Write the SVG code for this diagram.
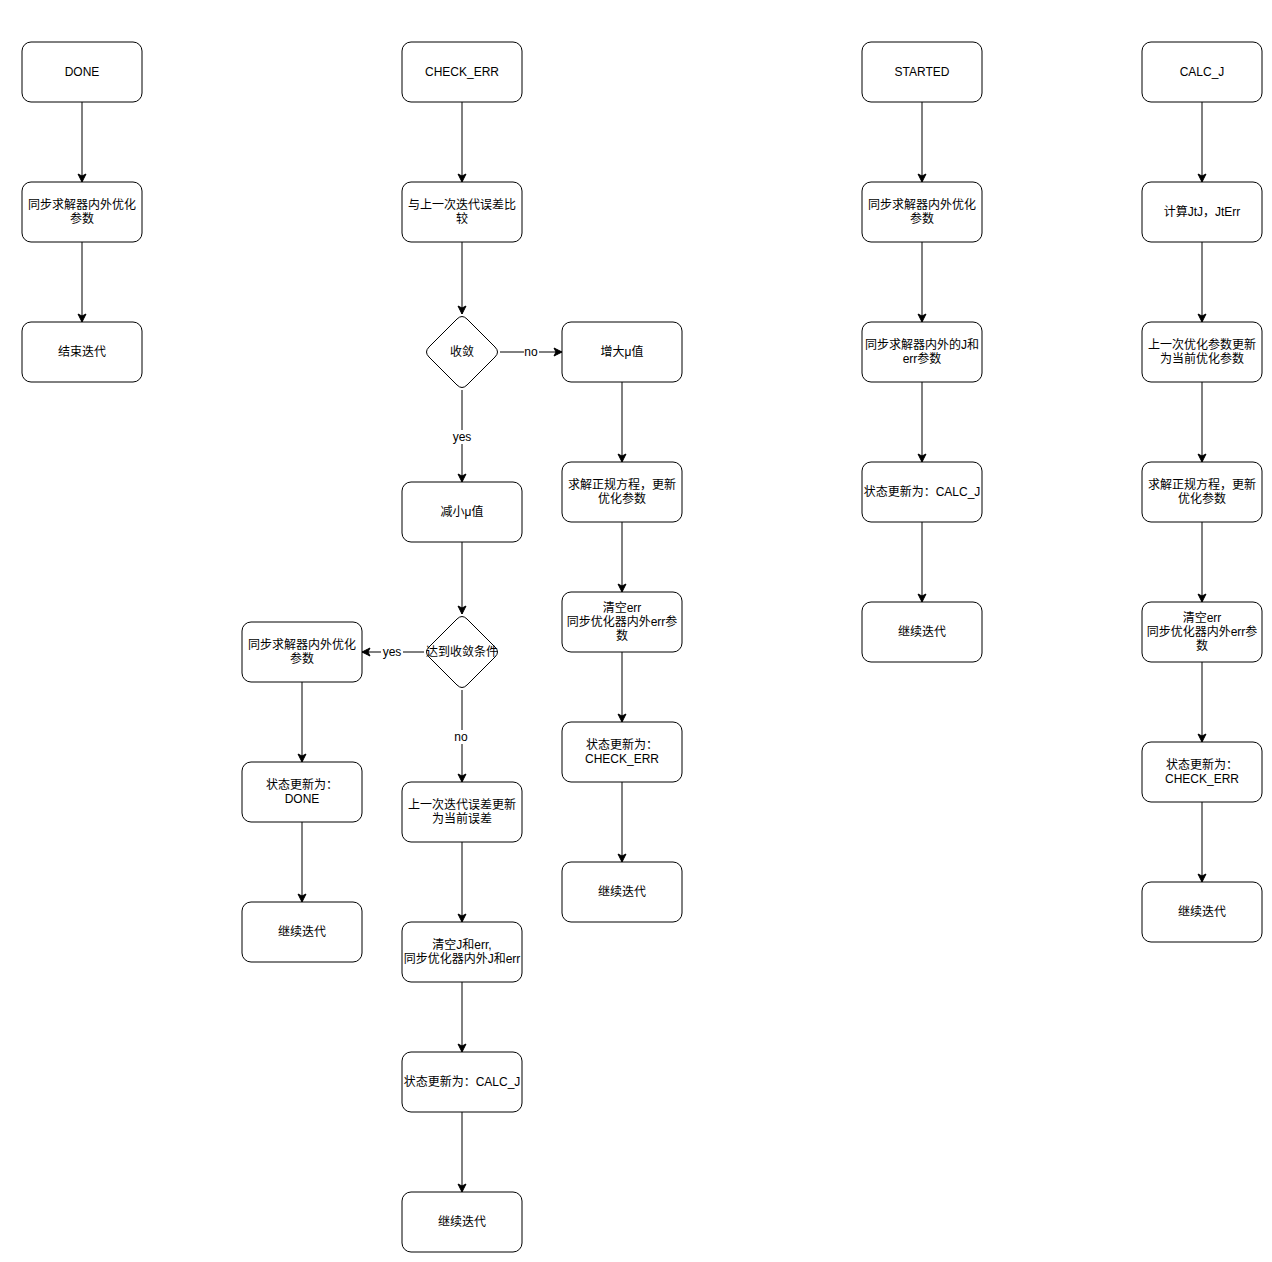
<svg xmlns="http://www.w3.org/2000/svg" width="1272" height="1262" viewBox="0 0 1272 1262">
<defs>
<marker id="arr" viewBox="0 0 10 10" refX="9" refY="5" markerWidth="10" markerHeight="10" markerUnits="userSpaceOnUse" orient="auto">
<path d="M1,1 L9,5 L1,9 L3,5 z" fill="#000" stroke="#000" stroke-width="1"/>
</marker>
<style>
.n rect{fill:#fff;stroke:#000;stroke-width:1}
.n path{fill:#fff;stroke:#000;stroke-width:1}
text{font-family:"Liberation Sans","Noto Sans CJK SC",sans-serif;font-size:12px;fill:#000;text-anchor:middle}
.e line{stroke:#000;stroke-width:1;fill:none;marker-end:url(#arr)}
.lb{fill:#fff}
</style>
</defs>
<rect width="1272" height="1262" fill="#fff"/>

<g id="edges" class="e">
<line x1="82" y1="102" x2="82" y2="182"/>
<line x1="82" y1="242" x2="82" y2="322"/>
<line x1="462" y1="102" x2="462" y2="182"/>
<line x1="462" y1="242" x2="462" y2="314"/>
<line x1="500" y1="352" x2="562" y2="352"/>
<line x1="462" y1="390" x2="462" y2="482"/>
<line x1="462" y1="542" x2="462" y2="614"/>
<line x1="424" y1="652" x2="362" y2="652"/>
<line x1="462" y1="690" x2="462" y2="782"/>
<line x1="462" y1="842" x2="462" y2="922"/>
<line x1="462" y1="982" x2="462" y2="1052"/>
<line x1="462" y1="1112" x2="462" y2="1192"/>
<line x1="622" y1="382" x2="622" y2="462"/>
<line x1="622" y1="522" x2="622" y2="592"/>
<line x1="622" y1="652" x2="622" y2="722"/>
<line x1="622" y1="782" x2="622" y2="862"/>
<line x1="302" y1="682" x2="302" y2="762"/>
<line x1="302" y1="822" x2="302" y2="902"/>
<line x1="922" y1="102" x2="922" y2="182"/>
<line x1="922" y1="242" x2="922" y2="322"/>
<line x1="922" y1="382" x2="922" y2="462"/>
<line x1="922" y1="522" x2="922" y2="602"/>
<line x1="1202" y1="102" x2="1202" y2="182"/>
<line x1="1202" y1="242" x2="1202" y2="322"/>
<line x1="1202" y1="382" x2="1202" y2="462"/>
<line x1="1202" y1="522" x2="1202" y2="602"/>
<line x1="1202" y1="662" x2="1202" y2="742"/>
<line x1="1202" y1="802" x2="1202" y2="882"/>
<rect class="lb" x="524" y="345" width="15" height="14"/>
<text x="531" y="356">no</text>
<rect class="lb" x="451" y="430" width="22" height="14"/>
<text x="462" y="441">yes</text>
<rect class="lb" x="381" y="645" width="22" height="14"/>
<text x="392" y="656">yes</text>
<rect class="lb" x="454" y="730" width="15" height="14"/>
<text x="461" y="741">no</text>
</g>

<g id="n_done" class="n"><rect x="22" y="42" width="120" height="60" rx="9"/><text x="82" y="76">DONE</text></g>
<g id="n_done_sync" class="n"><rect x="22" y="182" width="120" height="60" rx="9"/><text x="82" y="209">同步求解器内外优化</text><text x="82" y="223">参数</text></g>
<g id="n_done_end" class="n"><rect x="22" y="322" width="120" height="60" rx="9"/><text x="82" y="356">结束迭代</text></g>

<g id="n_check" class="n"><rect x="402" y="42" width="120" height="60" rx="9"/><text x="462" y="76">CHECK_ERR</text></g>
<g id="n_cmp" class="n"><rect x="402" y="182" width="120" height="60" rx="9"/><text x="462" y="209">与上一次迭代误差比</text><text x="462" y="223">较</text></g>
<g id="n_conv" class="n"><path d="M457,319 Q462,314 467,319 L495,347 Q500,352 495,357 L467,385 Q462,390 457,385 L429,357 Q424,352 429,347 Z"/><text x="462" y="356">收敛</text></g>
<g id="n_dec" class="n"><rect x="402" y="482" width="120" height="60" rx="9"/><text x="462" y="516">减小μ值</text></g>
<g id="n_reach" class="n"><path d="M457,619 Q462,614 467,619 L495,647 Q500,652 495,657 L467,685 Q462,690 457,685 L429,657 Q424,652 429,647 Z"/><text x="462" y="656">达到收敛条件</text></g>
<g id="n_upd_err" class="n"><rect x="402" y="782" width="120" height="60" rx="9"/><text x="462" y="809">上一次迭代误差更新</text><text x="462" y="823">为当前误差</text></g>
<g id="n_clear_j" class="n"><rect x="402" y="922" width="120" height="60" rx="9"/><text x="462" y="949">清空J和err,</text><text x="462" y="963">同步优化器内外J和err</text></g>
<g id="n_st_calc" class="n"><rect x="402" y="1052" width="120" height="60" rx="9"/><text x="462" y="1086">状态更新为：CALC_J</text></g>
<g id="n_cont1" class="n"><rect x="402" y="1192" width="120" height="60" rx="9"/><text x="462" y="1226">继续迭代</text></g>

<g id="n_inc" class="n"><rect x="562" y="322" width="120" height="60" rx="9"/><text x="622" y="356">增大μ值</text></g>
<g id="n_solve1" class="n"><rect x="562" y="462" width="120" height="60" rx="9"/><text x="622" y="489">求解正规方程，更新</text><text x="622" y="503">优化参数</text></g>
<g id="n_clear1" class="n"><rect x="562" y="592" width="120" height="60" rx="9"/><text x="622" y="612">清空err</text><text x="622" y="626">同步优化器内外err参</text><text x="622" y="640">数</text></g>
<g id="n_st_chk1" class="n"><rect x="562" y="722" width="120" height="60" rx="9"/><text x="622" y="749">状态更新为：</text><text x="622" y="763">CHECK_ERR</text></g>
<g id="n_cont2" class="n"><rect x="562" y="862" width="120" height="60" rx="9"/><text x="622" y="896">继续迭代</text></g>

<g id="n_sync2" class="n"><rect x="242" y="622" width="120" height="60" rx="9"/><text x="302" y="649">同步求解器内外优化</text><text x="302" y="663">参数</text></g>
<g id="n_st_done" class="n"><rect x="242" y="762" width="120" height="60" rx="9"/><text x="302" y="789">状态更新为：</text><text x="302" y="803">DONE</text></g>
<g id="n_cont3" class="n"><rect x="242" y="902" width="120" height="60" rx="9"/><text x="302" y="936">继续迭代</text></g>

<g id="n_started" class="n"><rect x="862" y="42" width="120" height="60" rx="9"/><text x="922" y="76">STARTED</text></g>
<g id="n_sync3" class="n"><rect x="862" y="182" width="120" height="60" rx="9"/><text x="922" y="209">同步求解器内外优化</text><text x="922" y="223">参数</text></g>
<g id="n_sync_j" class="n"><rect x="862" y="322" width="120" height="60" rx="9"/><text x="922" y="349">同步求解器内外的J和</text><text x="922" y="363">err参数</text></g>
<g id="n_st_calc2" class="n"><rect x="862" y="462" width="120" height="60" rx="9"/><text x="922" y="496">状态更新为：CALC_J</text></g>
<g id="n_cont4" class="n"><rect x="862" y="602" width="120" height="60" rx="9"/><text x="922" y="636">继续迭代</text></g>

<g id="n_calcj" class="n"><rect x="1142" y="42" width="120" height="60" rx="9"/><text x="1202" y="76">CALC_J</text></g>
<g id="n_jtj" class="n"><rect x="1142" y="182" width="120" height="60" rx="9"/><text x="1202" y="216">计算JtJ，JtErr</text></g>
<g id="n_upd_param" class="n"><rect x="1142" y="322" width="120" height="60" rx="9"/><text x="1202" y="349">上一次优化参数更新</text><text x="1202" y="363">为当前优化参数</text></g>
<g id="n_solve2" class="n"><rect x="1142" y="462" width="120" height="60" rx="9"/><text x="1202" y="489">求解正规方程，更新</text><text x="1202" y="503">优化参数</text></g>
<g id="n_clear2" class="n"><rect x="1142" y="602" width="120" height="60" rx="9"/><text x="1202" y="622">清空err</text><text x="1202" y="636">同步优化器内外err参</text><text x="1202" y="650">数</text></g>
<g id="n_st_chk2" class="n"><rect x="1142" y="742" width="120" height="60" rx="9"/><text x="1202" y="769">状态更新为：</text><text x="1202" y="783">CHECK_ERR</text></g>
<g id="n_cont5" class="n"><rect x="1142" y="882" width="120" height="60" rx="9"/><text x="1202" y="916">继续迭代</text></g>
</svg>
